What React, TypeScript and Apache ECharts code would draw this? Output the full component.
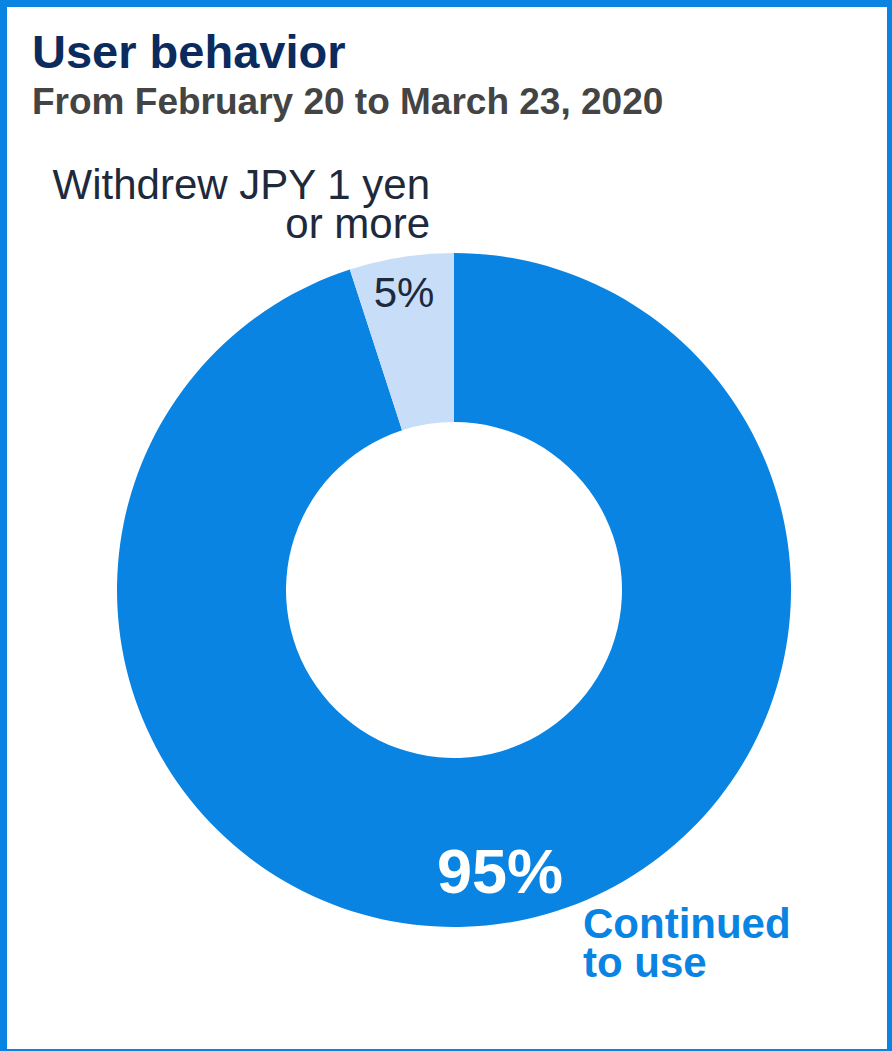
import React, { useEffect, useRef } from "react";
import * as echarts from "echarts";

const titleText = "User behavior";
const subtitleText = "From February 20 to March 23, 2020";
const categories = ["Continued to use", "Withdrew JPY 1 yen or more"];
const values = [95, 5];
const sliceColors = ["#0A84E2", "#C8DEF8"];
const withdrewLabelLines = ["Withdrew JPY 1 yen", "or more"];
const continuedLabelLines = ["Continued", "to use"];

const FONT = "'Liberation Sans', Arial, Helvetica, sans-serif";

export default function App() {
  const ref = useRef<HTMLDivElement>(null);
  useEffect(() => {
    if (!ref.current) return;
    const chart = echarts.init(ref.current, null, { renderer: "svg" });
    const W = 892;
    const H = 1051;
    const txt = (
      text: string,
      x: number,
      y: number,
      size: number,
      color: string,
      weight: string,
      align: string,
      lineHeight?: number
    ) => ({
      type: "text",
      x,
      y,
      silent: true,
      z: 10,
      style: {
        text,
        fontSize: size,
        fontFamily: FONT,
        fontWeight: weight,
        fill: color,
        align,
        verticalAlign: "middle",
        lineHeight: lineHeight ?? size,
      },
    });
    chart.setOption({
      animation: false,
      backgroundColor: "#ffffff",
      series: [
        {
          type: "pie",
          center: [454, 590],
          radius: [168, 337],
          startAngle: 90,
          clockwise: true,
          label: { show: false },
          labelLine: { show: false },
          silent: true,
          itemStyle: { borderWidth: 0 },
          data: categories.map((name, i) => ({
            name,
            value: values[i],
            itemStyle: { color: sliceColors[i] },
          })),
        },
      ],
      graphic: [
        { type: "rect", shape: { x: 0, y: 0, width: W, height: 7 }, style: { fill: "#0A84E2" }, silent: true },
        { type: "rect", shape: { x: 0, y: 0, width: 7, height: H }, style: { fill: "#0A84E2" }, silent: true },
        { type: "rect", shape: { x: W - 5, y: 0, width: 5, height: H }, style: { fill: "#0A84E2" }, silent: true },
        { type: "rect", shape: { x: 0, y: H - 2, width: W, height: 2 }, style: { fill: "#0A84E2" }, silent: true },
        txt(titleText, 32, 51, 47, "#0B2B5E", "bold", "left"),
        txt(subtitleText, 32, 101.5, 37, "#444444", "bold", "left"),
        txt(withdrewLabelLines.join("\n"), 430, 204, 42, "#1E2A3C", "normal", "right", 39),
        txt(`${values[1]}%`, 404, 292.5, 42, "#1E2A3C", "normal", "center"),
        txt(`${values[0]}%`, 500, 871, 63, "#ffffff", "bold", "center"),
        txt(continuedLabelLines.join("\n"), 583, 943, 42, "#0A84E2", "bold", "left", 39),
      ],
    });
    return () => chart.dispose();
  }, []);
  return (
    <div
      ref={ref}
      style={{ position: "absolute", left: 0, top: 0, width: 892, height: 1051 }}
    />
  );
}
